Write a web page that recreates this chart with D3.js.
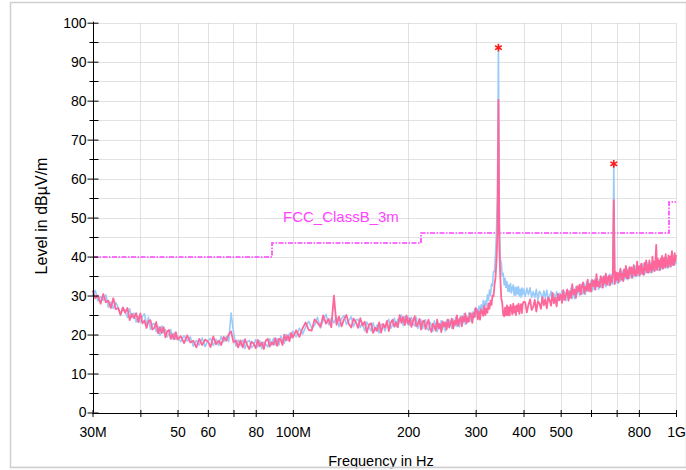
<!DOCTYPE html>
<html><head><meta charset="utf-8">
<script src="https://cdn.jsdelivr.net/npm/d3@7"></script>
<style>body{margin:0;background:#fff}svg{display:block;font-family:"Liberation Sans",Arial,sans-serif}</style>
</head><body><svg id="c" width="686" height="470"></svg>
<script>
// ---- data ----
const freqMHz = [
30,30.5,31,31.5,32,32.5,33,33.5,34,34.5,35,35.5,36,36.5,37,37.5,38,38.5,39,39.5,40,40.5,41,41.5,42,42.5,43,43.5,44,44.5,45,45.5,46,46.5,47,47.5,48,48.5,49,49.5,50,
51,52,53,54,55,56,57,58,59,60,61,62,63,64,65,66,67,68,69,70,71,72,73,74,75,76,77,78,79,80,81,82,83,84,85,86,87,88,89,90,91,92,93,94,95,96,97,98,99,100,
102,104,106,108,110,112,114,116,118,120,122,124,126,128,130,132,134,136,138,140,142,144,146,148,150,152,154,156,158,160,162,164,166,168,170,172,174,176,178,180,182,184,186,188,190,192,194,196,198,200,
202,204,206,208,210,212,214,216,218,220,222,224,226,228,230,232,234,236,238,240,242,244,246,248,250,252,254,256,258,260,262,264,266,268,270,272,274,276,278,280,
282,284,286,288,290,292,294,296,298,300,302,304,306,308,310,312,314,316,318,320,322,324,326,328,330,332,334,336,338,340,342,344,346,348,350,352,354,356,358,360,
362,364,366,368,370,372,374,376,378,380,382,384,386,388,390,392,394,396,398,400,
404,408,412,416,420,424,428,432,436,440,444,448,452,456,460,464,468,472,476,480,484,488,492,496,500,504,508,512,516,520,524,528,532,536,540,544,548,552,556,560,
564,568,572,576,580,584,588,592,596,600,604,608,612,616,620,624,628,632,636,640,644,648,652,656,660,664,668,672,676,680,684,688,692,696,700,704,708,712,716,720,
724,728,732,736,740,744,748,752,756,760,764,768,772,776,780,784,788,792,796,800,804,808,812,816,820,824,828,832,836,840,844,848,852,856,860,864,868,872,876,880,
884,888,892,896,900,904,908,912,916,920,924,928,932,936,940,944,948,952,956,960,964,968,972,976,980,984,988,992,996,1000
];
const blueLevels = [
30.0,31.3,28.6,29.8,28.7,30.2,27.0,28.3,26.7,28.2,27.0,24.9,27.0,26.0,24.4,26.6,24.4,25.5,23.2,24.7,23.1,24.7,25.3,22.4,24.4,21.3,22.7,22.8,20.7,22.1,19.8,22.2,20.5,21.3,19.4,20.0,21.3,18.9,20.4,18.8,19.6,
18.2,19.7,18.3,19.4,17.0,18.5,17.3,19.1,16.9,18.4,19.0,17.2,18.8,17.2,19.5,18.1,19.5,18.2,25.5,20.6,17.0,18.6,17.2,18.6,16.4,18.1,18.5,16.6,17.2,18.7,16.8,18.4,16.4,18.1,17.5,16.8,18.9,17.4,19.0,17.3,18.9,17.3,19.6,18.7,17.8,20.0,18.5,20.3,19.1,20.9,
19.4,21.6,20.1,21.9,23.4,21.7,22.4,24.4,21.7,23.7,25.2,22.5,24.2,23.0,24.6,22.0,24.1,24.9,22.6,23.6,24.6,22.0,23.7,23.9,21.8,23.0,20.9,23.2,22.1,20.9,23.0,20.9,22.5,20.4,22.7,22.2,20.9,22.9,23.9,21.6,22.4,24.2,22.0,24.0,23.2,25.0,22.3,24.7,23.0,24.6,
22.3,24.4,22.7,22.2,24.4,21.6,23.1,23.8,21.5,23.1,23.8,21.6,21.1,23.2,22.5,20.9,23.5,22.2,20.7,23.0,21.4,23.6,21.3,23.2,20.9,23.7,22.1,23.7,23.0,21.6,23.9,22.1,24.5,22.1,23.9,22.0,23.7,24.8,22.9,25.3,
22.6,24.7,23.2,25.5,23.9,23.4,25.8,24.3,26.6,24.5,26.5,24.8,27.3,25.8,27.6,25.7,28.7,26.9,28.6,27.4,30.2,28.8,31.4,30.0,33.0,32.5,36.2,36.1,40.5,46.5,56.0,93.6,48.5,39.2,38.5,35.0,35.7,32.7,34.4,32.1,
33.6,31.1,32.7,31.0,33.1,30.7,32.0,32.7,30.1,32.1,30.1,32.1,30.4,32.3,29.9,31.6,29.6,31.9,30.2,31.7,
29.8,31.9,30.2,32.0,29.5,31.0,29.5,31.6,28.9,31.1,30.5,28.9,31.2,29.4,31.4,29.0,29.8,31.1,28.6,30.5,29.0,31.0,28.7,30.6,29.4,31.3,28.9,30.9,28.7,30.5,31.2,29.2,31.9,29.2,31.5,29.2,32.3,30.4,32.2,30.0,
32.8,30.3,31.2,33.0,30.3,33.5,31.2,33.2,31.0,33.8,31.1,33.7,31.5,34.4,32.3,34.3,31.6,34.2,32.4,32.1,34.8,32.5,35.1,32.3,34.9,33.0,32.7,35.5,32.9,35.4,32.9,63.8,35.5,33.2,35.9,33.2,35.7,33.8,33.7,36.3,
34.0,36.5,34.0,36.4,34.4,36.9,34.1,36.8,34.5,37.0,34.7,37.1,34.7,35.4,37.5,34.8,37.8,35.2,37.4,35.0,37.7,35.4,35.6,38.1,35.4,38.1,35.5,38.0,35.9,38.4,35.8,38.4,36.0,38.5,35.8,38.4,36.1,38.9,36.3,38.7,
36.5,39.6,38.9,36.5,39.1,36.5,39.0,36.8,39.2,36.8,39.4,37.0,37.3,39.5,37.0,39.8,37.3,39.6,37.2,40.0,37.5,40.0,37.5,37.9,40.3,37.7,40.3,38.0,40.3,38.0
];
const pinkLevels = [
31.3,29.3,30.0,27.9,30.4,28.3,28.7,26.8,29.3,26.5,26.8,25.1,26.9,25.6,26.8,23.7,25.3,24.2,25.5,23.2,25.4,22.9,23.6,21.7,23.4,23.7,21.3,21.7,23.2,20.3,21.9,20.4,21.9,19.3,20.8,21.2,18.9,20.1,18.8,20.6,18.7,
19.6,17.8,19.8,18.0,18.4,16.7,18.9,17.3,18.7,18.3,16.8,19.5,17.5,18.4,17.3,19.4,18.4,20.0,20.8,18.0,18.5,16.7,18.5,16.7,18.8,17.3,16.3,18.2,17.7,16.5,18.6,17.0,18.0,16.3,18.5,18.9,16.9,18.0,17.4,19.1,17.1,18.9,18.7,17.3,20.0,18.5,19.8,18.3,20.4,19.2,
21.1,19.4,21.6,23.1,21.2,21.0,23.9,23.0,22.0,24.9,22.8,24.0,21.9,30.0,22.5,24.6,22.1,23.9,25.0,22.7,21.8,24.1,23.2,21.7,24.2,22.3,23.3,20.5,22.5,22.9,20.4,21.8,20.9,23.1,20.5,22.7,21.8,23.5,20.9,23.0,23.8,22.0,23.2,21.9,25.0,23.0,24.5,22.4,24.9,22.6,
24.2,22.0,23.5,24.7,22.1,22.7,24.0,21.3,23.3,23.6,21.4,22.8,23.8,21.5,20.7,22.8,22.1,21.0,23.8,21.6,22.7,20.6,23.4,22.1,23.1,21.3,23.9,21.8,22.9,24.1,21.5,23.5,22.5,24.9,22.3,23.7,24.5,22.1,24.6,23.4,
25.4,22.9,24.3,23.3,25.5,25.1,23.0,25.5,24.5,26.8,26.4,23.9,25.9,23.8,26.5,25.7,24.8,27.4,25.0,26.7,25.6,28.0,26.6,28.7,27.6,30.0,29.8,32.7,34.6,39.0,46.0,80.2,42.0,34.5,29.2,28.1,25.0,24.7,26.9,24.9,
27.5,24.9,27.0,24.9,27.6,26.5,25.2,27.9,25.6,27.2,25.0,27.5,26.0,27.9,25.3,27.2,27.8,25.5,27.7,28.4,
28.3,25.7,27.6,29.0,26.3,27.1,28.9,25.9,28.5,28.0,26.6,29.6,27.5,29.1,26.7,29.5,28.8,27.4,30.7,28.0,29.4,27.2,30.4,28.8,30.3,28.1,31.4,28.9,30.1,31.6,28.7,31.1,29.4,32.9,30.3,31.6,29.4,32.4,31.1,32.8,
30.3,32.5,33.4,30.5,32.3,31.2,34.1,31.2,33.0,31.0,34.0,32.4,33.9,31.5,35.5,32.4,33.5,32.1,35.0,34.2,32.0,34.9,33.1,35.6,32.7,34.4,35.1,32.6,34.9,33.4,35.3,54.5,33.0,36.0,34.0,35.8,33.3,35.7,36.9,34.1,
35.6,33.7,36.7,34.9,37.6,34.4,36.3,34.4,37.3,35.6,37.2,34.5,36.6,37.8,35.2,36.5,35.1,38.7,35.8,37.5,35.2,37.5,38.2,35.6,37.1,35.3,38.4,36.5,39.0,36.0,37.8,35.9,39.0,36.6,37.8,36.0,40.0,36.7,38.7,36.3,
39.0,43.0,36.6,39.5,37.5,38.9,36.5,39.5,37.4,40.2,36.9,38.8,39.7,37.3,40.6,37.7,38.8,37.2,40.3,38.2,40.0,37.4,39.7,41.4,38.0,39.6,37.8,40.9,38.8,40.4
];
const limitFreqs  = [30, 88, 88, 216, 216, 960, 960, 1000];
const limitLevels = [40, 40, 43.5, 43.5, 46, 46, 54, 54];
const limitName = "FCC_ClassB_3m";
const peakFreqs  = [344, 688];
const peakLevels = [93.6, 63.8];
const xTickValues = [30,40,50,60,70,80,100,200,300,400,500,600,700,800,1000];
const xTickLabels = ["30M","","50","60","","80","100M","200","300","400","500","","","800","1G"];
const yMajorTicks = [0,10,20,30,40,50,60,70,80,90,100];
const yMinorTicks = [5,15,25,35,45,55,65,75,85,95];
const xTitle = "Frequency in Hz";
const yTitle = "Level in dBµV/m";

// ---- drawing ----
const svg = d3.select("#c");
const x = d3.scaleLog().domain([30, 1000]).range([92.5, 676]);
const y = d3.scaleLinear().domain([0, 100]).range([412.5, 22.7]);

svg.append("rect").attr("x", 10.5).attr("y", 2.5).attr("width", 676).attr("height", 465)
  .attr("fill", "none").attr("stroke", "#cfcfcf").attr("stroke-width", 1.5);

// grid
const grid = svg.append("g").attr("stroke", "#c4c4c4").attr("stroke-dasharray", "1,1").attr("stroke-width", 1);
grid.selectAll(".h").data(yMajorTicks.concat(yMinorTicks).filter(v => v > 0)).join("line")
  .attr("x1", x(30)).attr("x2", x(1000)).attr("y1", d => Math.round(y(d)) + 0.5).attr("y2", d => Math.round(y(d)) + 0.5);
grid.selectAll(".v").data(xTickValues.filter(v => v > 30)).join("line")
  .attr("y1", y(0)).attr("y2", y(100)).attr("x1", d => Math.round(x(d)) + 0.5).attr("x2", d => Math.round(x(d)) + 0.5);

// limit line
const limitData = limitFreqs.map((f, i) => [f, limitLevels[i]]);
svg.append("path").datum(limitData)
  .attr("d", d3.line().x(d => Math.round(x(d[0]))).y(d => Math.round(y(d[1]))))
  .attr("fill", "none").attr("stroke", "#ff40ff").attr("stroke-width", 1.6)
  .attr("stroke-dasharray", "5,1.5,1.5,1.5");
svg.append("text").attr("x", 283).attr("y", 222).attr("fill", "#ff44ff")
  .attr("font-size", 15).text(limitName);

// traces
const line = d3.line().x((d, i) => x(freqMHz[i])).y(d => y(d));
svg.append("path").datum(blueLevels).attr("d", line)
  .attr("fill", "none").attr("stroke", "#99cbfa").attr("stroke-width", 1.6).attr("stroke-linejoin", "round");
svg.append("path").datum(pinkLevels).attr("d", line)
  .attr("fill", "none").attr("stroke", "#ff6699").attr("stroke-width", 1.8).attr("stroke-linejoin", "round");

// peak markers
svg.selectAll(".pk").data(peakFreqs).join("path")
  .attr("transform", (d, i) => `translate(${x(d)},${y(peakLevels[i])})`)
  .attr("d", d3.symbol().type(d3.symbolAsterisk).size(42))
  .attr("fill", "none").attr("stroke", "#ff1a1a").attr("stroke-width", 1.6);

// axes
const xAxis = svg.append("g").attr("transform", `translate(0,${Math.round(y(0)) + 0.5})`)
  .call(d3.axisBottom(x).tickValues(xTickValues).tickFormat((d, i) => xTickLabels[i]).tickSizeOuter(0));
xAxis.select(".domain").attr("d", `M${x(30)},0H${x(1000)}`);
xAxis.selectAll(".tick line").attr("y1", -3.5).attr("y2", 3.5);
xAxis.selectAll(".tick text").attr("y", 14).attr("font-size", 14).attr("font-family", "Liberation Sans, Arial").attr("fill", "#000");

const yAxis = svg.append("g").attr("transform", `translate(${Math.round(x(30)) + 0.5},0)`)
  .call(d3.axisLeft(y).tickValues(yMajorTicks).tickFormat(d3.format("d")).tickSizeOuter(0));
yAxis.select(".domain").attr("d", `M0,${y(0)}V${y(100) - 1}`);
yAxis.selectAll(".tick line").attr("x1", -6).attr("x2", 5);
yAxis.selectAll(".tick text").attr("x", -7).attr("font-size", 14).attr("font-family", "Liberation Sans, Arial").attr("fill", "#000");
const yMinor = svg.append("g").attr("transform", `translate(${Math.round(x(30)) + 0.5},0)`);
yMinor.selectAll("line").data(yMinorTicks).join("line")
  .attr("x1", -4).attr("x2", 5).attr("y1", d => Math.round(y(d)) + 0.5).attr("y2", d => Math.round(y(d)) + 0.5)
  .attr("stroke", "#000");

// titles
svg.append("text").attr("x", 381).attr("y", 466).attr("text-anchor", "middle")
  .attr("font-size", 14.5).attr("fill", "#000").text(xTitle);
svg.append("text").attr("transform", "translate(47,216) rotate(-90)").attr("text-anchor", "middle")
  .attr("font-size", 16).attr("fill", "#000").text(yTitle);

svg.append("rect").attr("x", 0).attr("y", 468.3).attr("width", 686).attr("height", 2).attr("fill", "#fff");
svg.append("line").attr("x1", 10).attr("x2", 686).attr("y1", 467.5).attr("y2", 467.5).attr("stroke", "#cfcfcf").attr("stroke-width", 1.5);
</script></body></html>
